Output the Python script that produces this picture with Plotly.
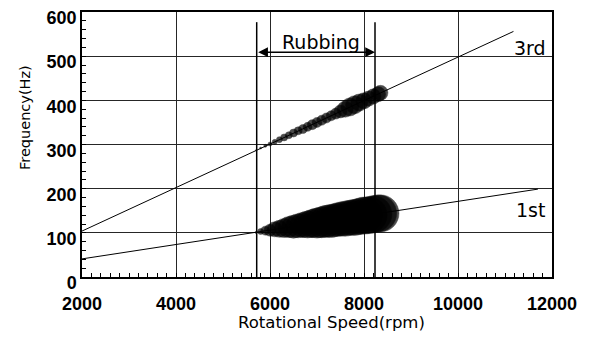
import plotly.graph_objects as go

# Order lines (rpm, Hz)
first_rpm = [2000, 11700]
first_hz = [41, 199]
third_rpm = [2000, 11180]
third_hz = [104, 556]

# Rubbing response along the 1st order: speed, frequency, bubble diameter (px)
rub1_rpm = [5700, 5800, 5900, 6000, 6100, 6200, 6300, 6400, 6500, 6600, 6700, 6800, 6900, 7000,
            7100, 7200, 7300, 7400, 7500, 7600, 7700, 7800, 7900, 8000, 8100, 8200, 8300, 8350]
rub1_hz = [101, 103, 105, 106, 108, 109, 111, 113, 114, 116, 118, 119, 121, 122,
           124, 126, 127, 129, 131, 132, 134, 135, 137, 139, 140, 142, 144, 144]
rub1_amp = [2, 6, 9, 12, 15, 17, 19, 21, 23, 24, 25, 27, 28, 30,
            31, 32, 33, 33, 34, 35, 35, 36, 36, 37, 37, 37, 37, 37]

# Rubbing response along the 3rd order
rub3_rpm = [5700, 5800, 5900, 6000, 6100, 6200, 6300, 6400, 6500, 6600, 6700, 6800, 6900, 7000,
            7100, 7200, 7300, 7400, 7500, 7600, 7700, 7800, 7900, 8000, 8100, 8200, 8300, 8350]
rub3_hz = [287, 292, 297, 301, 306, 311, 316, 321, 326, 331, 335, 340, 345, 350,
           355, 360, 365, 370, 375, 380, 385, 390, 395, 399, 404, 409, 414, 417]
rub3_amp = [1, 2, 3, 4, 5, 6, 7, 7, 8, 8, 9, 9, 10, 10,
            10, 10, 10, 11, 13, 16, 18, 18, 17, 16, 15, 15, 15, 15]

# Rubbing zone boundaries
zone_rpm = [5717, 8234]
zone_top_hz = 577
arrow_hz = 509

x_ticks = [2000, 4000, 6000, 8000, 10000, 12000]
x_labels = ["2000", "4000", "6000", "8000", "10000", "12000"]
y_ticks = [0, 100, 200, 300, 400, 500, 600]
y_labels = ["0", "100", "200", "300", "400", "500", "600"]

TICK_FONT = "Liberation Sans, Arial, sans-serif"
TEXT_FONT = "DejaVu Sans, sans-serif"

fig = go.Figure()

for rpm, hz in [(first_rpm, first_hz), (third_rpm, third_hz)]:
    fig.add_trace(go.Scatter(x=rpm, y=hz, mode="lines",
                             line=dict(color="black", width=1), hoverinfo="skip"))

for zx in zone_rpm:
    fig.add_trace(go.Scatter(x=[zx, zx], y=[0, zone_top_hz], mode="lines",
                             line=dict(color="black", width=1.5), hoverinfo="skip"))

for rpm, hz, amp in [(rub1_rpm, rub1_hz, rub1_amp), (rub3_rpm, rub3_hz, rub3_amp)]:
    fig.add_trace(go.Scatter(x=rpm, y=hz, mode="markers",
                             marker=dict(size=amp, color="black",
                                         line=dict(color="black", width=0.5)),
                             hoverinfo="skip"))

# Double-headed arrow marking the rubbing zone
fig.add_annotation(x=zone_rpm[1], y=arrow_hz, ax=zone_rpm[0], ay=arrow_hz,
                   xref="x", yref="y", axref="x", ayref="y", text="",
                   showarrow=True, arrowhead=2, startarrowhead=2, arrowside="end+start",
                   arrowwidth=1.5, arrowsize=1.3, startarrowsize=1.3, arrowcolor="black")
fig.add_annotation(x=7085, y=532, xref="x", yref="y", text="Rubbing", showarrow=False,
                   font=dict(family=TEXT_FONT, size=19, color="black"))
fig.add_annotation(x=11530, y=518, xref="x", yref="y", text="3rd", showarrow=False,
                   font=dict(family=TEXT_FONT, size=19, color="black"))
fig.add_annotation(x=11550, y=152, xref="x", yref="y", text="1st", showarrow=False,
                   font=dict(family=TEXT_FONT, size=19, color="black"))

# Axis titles
fig.add_annotation(x=(331 - 82) / 470, y=(277 - 322) / 265, xref="paper", yref="paper",
                   xanchor="center", yanchor="middle",
                   text="Rotational Speed(rpm)", showarrow=False,
                   font=dict(family=TEXT_FONT, size=16.5, color="#000000"))
fig.add_annotation(x=(25 - 82) / 470, y=(277 - 118) / 265, xref="paper", yref="paper",
                   xanchor="center", yanchor="middle",
                   text="Frequency(Hz)", showarrow=False, textangle=-90,
                   font=dict(family=TEXT_FONT, size=14.5, color="#000000"))

axis_common = dict(showline=True, linecolor="black", linewidth=1.5, mirror=True,
                   showgrid=True, gridcolor="#262626", gridwidth=1,
                   ticks="inside", ticklen=4, tickcolor="black",
                   tickfont=dict(family=TICK_FONT, size=18, color="black", weight="bold"),
                   zeroline=False, automargin=False)

fig.update_xaxes(range=[2000, 12000], tickvals=x_ticks, ticktext=x_labels,
                 ticklabelstandoff=10,
                 minor=dict(dtick=200, ticks="inside", ticklen=4, tickcolor="black", showgrid=False),
                 **axis_common)
fig.update_yaxes(range=[0, 600], tickvals=y_ticks, ticktext=y_labels,
                 ticklabelshift=6,
                 minor=dict(dtick=20, ticks="inside", ticklen=4, tickcolor="black", showgrid=False),
                 **axis_common)

fig.update_layout(width=594, height=338, margin=dict(l=82, r=42, t=12, b=61),
                  paper_bgcolor="white", plot_bgcolor="white", showlegend=False)

fig.write_html("out.html")
